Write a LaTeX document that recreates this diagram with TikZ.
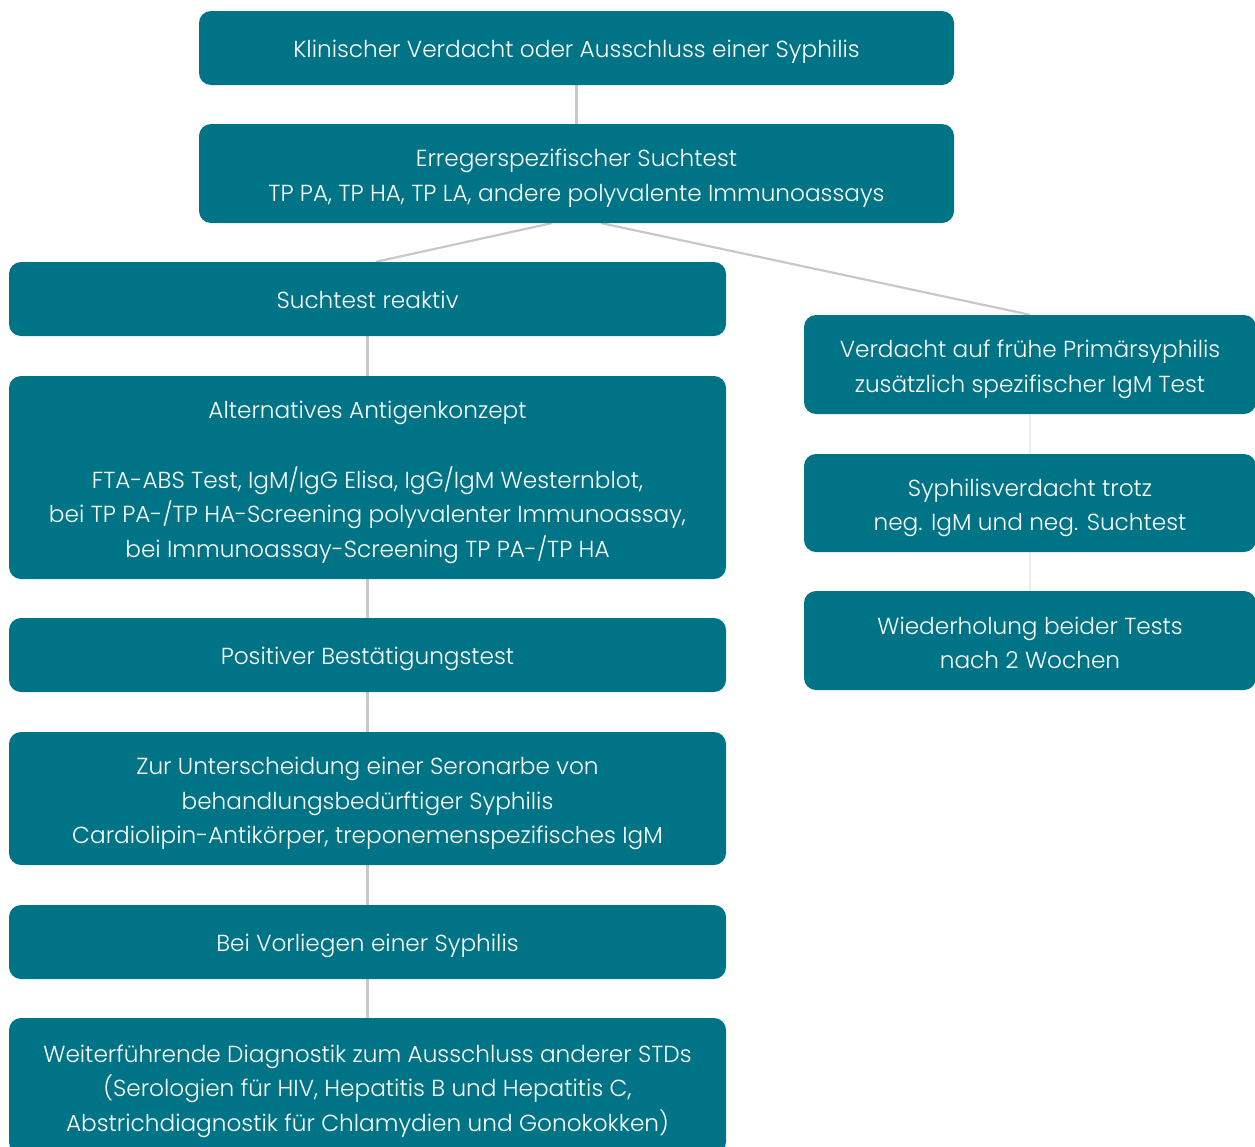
\documentclass[tikz,border=0pt]{standalone}
\usepackage{fontspec}
\setmainfont{Poppins Light}
\usetikzlibrary{calc,backgrounds}
\definecolor{teal}{RGB}{0,116,135}
\definecolor{lin}{RGB}{200,200,200}
\definecolor{linfaint}{RGB}{232,238,238}
\tikzset{
  txt/.style={text=white, align=center, inner sep=0pt,
    font=\fontsize{23.2}{34.6}\selectfont,
    execute at begin node={\rule{0pt}{24.5pt}},
    execute at end node={\rule[-5.5pt]{0pt}{5.5pt}}},
  box/.style={txt, fill=teal, draw=none, rounded corners=12pt},
  conn/.style={draw=lin, line width=2.2pt},
  connfaint/.style={draw=linfaint, line width=2.2pt}
}
\begin{document}
\begin{tikzpicture}[x=1pt,y=-1pt]
\useasboundingbox (0,0) rectangle (1255,1146);
\clip (0,0) rectangle (1255,1146);
\node[box, minimum width=755pt, minimum height=74pt] (a) at (576.5,48) {Klinischer Verdacht oder Ausschluss einer Syphilis};
\node[box, minimum width=755pt, minimum height=99pt] (b) at (576.5,173.5) {};
\node[txt] (bt) at ([yshift=-4.5pt]b.center) {Erregerspezifischer Suchtest\\TP PA, TP HA, TP LA, andere polyvalente Immunoassays};
\node[box, minimum width=717pt, minimum height=74pt] (c) at (367.5,299) {Suchtest reaktiv};
\node[box, minimum width=717pt, minimum height=203pt] (d) at (367.5,477.5) {};
\node[txt] (dt) at ([yshift=-5pt]d.center) {Alternatives Antigenkonzept\\[34.6pt]FTA-ABS Test, IgM/IgG Elisa, IgG/IgM Westernblot,\\bei TP PA-/TP HA-Screening polyvalenter Immunoassay,\\bei Immunoassay-Screening TP PA-/TP HA};
\node[box, minimum width=717pt, minimum height=74pt] (e) at (367.5,655) {Positiver Bestätigungstest};
\node[box, minimum width=717pt, minimum height=133pt] (f) at (367.5,798.5) {};
\node[txt] (ft) at ([yshift=-5pt]f.center) {Zur Unterscheidung einer Seronarbe von\\behandlungsbedürftiger Syphilis\\Cardiolipin-Antikörper, treponemenspezifisches IgM};
\node[box, minimum width=717pt, minimum height=74pt] (g) at (367.5,942) {Bei Vorliegen einer Syphilis};
\node[box, minimum width=717pt, minimum height=136pt] (h) at (367.5,1086) {};
\node[txt] (ht) at ([yshift=-5pt]h.center) {Weiterführende Diagnostik zum Ausschluss anderer STDs\\(Serologien für HIV, Hepatitis B und Hepatitis C,\\Abstrichdiagnostik für Chlamydien und Gonokokken)};
\node[box, minimum width=452pt, minimum height=99pt] (r1) at (1030,364.5) {};
\node[txt] (r1t) at ([yshift=-5pt]r1.center) {Verdacht auf frühe Primärsyphilis\\zusätzlich spezifischer IgM Test};
\node[box, minimum width=452pt, minimum height=98pt] (r2) at (1030,503) {};
\node[txt] (r2t) at ([yshift=-5pt]r2.center) {Syphilisverdacht trotz\\neg. IgM und neg. Suchtest};
\node[box, minimum width=452pt, minimum height=99pt] (r3) at (1030,640.5) {};
\node[txt] (r3t) at ([yshift=-5pt]r3.center) {Wiederholung beider Tests\\nach 2 Wochen};
\begin{scope}[on background layer]
\draw[conn] (a.south) -- (b.north);
\draw[conn] ($(b.south)+(-25,0)$) -- ($(c.north)+(8.5,0)$);
\draw[conn] ($(b.south)+(25,0)$) -- (r1.north);
\draw[conn] (c.south) -- (d.north);
\draw[conn] (d.south) -- (e.north);
\draw[conn] (e.south) -- (f.north);
\draw[conn] (f.south) -- (g.north);
\draw[conn] (g.south) -- (h.north);
\draw[connfaint] (r1.south) -- (r2.north);
\draw[connfaint] (r2.south) -- (r3.north);
\end{scope}
\end{tikzpicture}
\end{document}
